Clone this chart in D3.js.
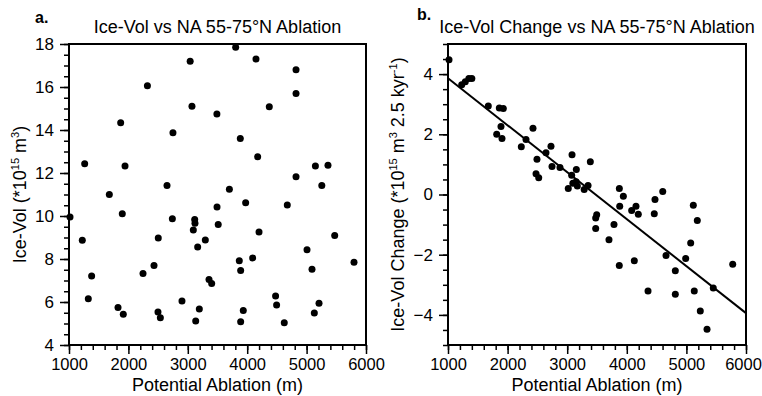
<!DOCTYPE html>
<html>
<head>
<meta charset="utf-8">
<script src="https://cdn.jsdelivr.net/npm/d3@7"></script>
<style>
body { margin: 0; background: #fff; }
svg { font-family: "Liberation Sans", Arial, Helvetica, sans-serif; }
</style>
</head>
<body>
<div class="chart"></div>
<script>
const WIDTH = 762;
const HEIGHT = 396;

// panel a: ice volume vs potential ablation
const ablationA = [3040, 2320, 3070, 3490, 1870, 2750, 1264, 1943, 2650, 3700,
    3806, 4148, 4822, 4822, 4372, 3884, 4176, 5148, 5360, 4822, 5256,
    1679, 1897, 1017, 2740, 3116, 3121, 3093, 3492, 3512, 2503, 1224, 3295, 3166,
    2431, 2246, 1381, 3357, 3402, 1325, 2902, 1825, 3194, 1914, 2498, 2538, 3133,
    3974, 4675, 4199, 5473, 5007, 3867, 4092, 3890, 5091, 5798, 4478, 4495, 5209,
    5130, 3934, 3890, 4624];
const iceVolA = [17.2, 16.06, 15.1, 14.75, 14.34, 13.87, 12.43, 12.33, 11.42, 11.25,
    17.85, 17.3, 16.8, 15.7, 15.08, 13.6, 12.76, 12.33, 12.36, 11.83, 11.42,
    11.0, 10.1, 9.95, 9.87, 9.84, 9.66, 9.35, 10.42, 9.6, 8.98, 8.87, 8.88, 8.56,
    7.7, 7.32, 7.21, 7.05, 6.86, 6.15, 6.05, 5.75, 5.67, 5.43, 5.53, 5.27, 5.12,
    10.62, 10.51, 9.26, 9.09, 8.43, 7.92, 8.05, 7.47, 7.52, 7.85, 6.28, 5.86, 5.94,
    5.49, 5.6, 5.08, 5.04];

// panel b: ice volume change vs potential ablation
const ablationB = [1017, 1230, 1290, 1350, 1400, 1676, 1861, 1928, 1889, 1817, 1906,
    2426, 2309, 2230, 2728, 2644, 2493, 2745, 2879, 2477, 2522, 3081, 3388, 3153, 3075,
    3018, 3095, 3150, 3170, 3285, 3350,
    3875, 3942, 4603, 4473, 3881, 4154, 4082, 4193, 4461, 5116, 5183, 3495, 3478, 3478,
    3785, 3701, 5072, 4658, 4988, 4126, 3874, 5777, 4814, 5451, 5132, 4356, 4814, 5233, 5346];
const iceChangeB = [4.48, 3.65, 3.75, 3.85, 3.85, 2.94, 2.87, 2.86, 2.26, 2.0, 1.86,
    2.2, 1.83, 1.59, 1.6, 1.39, 1.17, 0.93, 0.9, 0.69, 0.56, 1.32, 1.09, 0.83, 0.64,
    0.2, 0.37, 0.42, 0.28, 0.17, 0.3,
    0.2, -0.06, 0.1, -0.17, -0.39, -0.39, -0.53, -0.66, -0.64, -0.36, -0.86, -0.67, -0.78, -1.13,
    -1.0, -1.5, -1.61, -2.03, -2.13, -2.2, -2.36, -2.32, -2.53, -3.11, -3.21, -3.21, -3.31, -3.87, -4.48];

// regression line end points
const fitX = [1000, 6000];
const fitY = [3.86, -3.94];

const xTicks = [1000, 2000, 3000, 4000, 5000, 6000];
const yTicksA = [4, 6, 8, 10, 12, 14, 16, 18];
const yTicksB = [-4, -2, 0, 2, 4];

const TOP = 44, BOTTOM = 345;

var svg = d3.select('.chart').append('svg')
    .attr('width', WIDTH)
    .attr('height', HEIGHT);

function drawPanel(opt) {
    var x = d3.scaleLinear().domain([1000, 6000]).range([opt.left, opt.right]);
    var y = d3.scaleLinear().domain(opt.yDomain).range([BOTTOM, TOP]);
    var g = svg.append('g');

    var xMinor = d3.range(1000, 6001, 200);
    var yMinor = d3.range(opt.yDomain[0], opt.yDomain[1] + 0.001, 0.5);

    g.append('g').attr('transform', 'translate(0,' + BOTTOM + ')')
        .call(d3.axisBottom(x).tickValues(xMinor).tickSize(5).tickSizeOuter(0).tickFormat(''));
    var xAxisG = g.append('g').attr('transform', 'translate(0,' + BOTTOM + ')')
        .call(d3.axisBottom(x).tickValues(xTicks).tickSize(9).tickSizeOuter(0)
            .tickPadding(4).tickFormat(d3.format('d')));
    xAxisG.selectAll('text').style('font-size', '16.5px').attr('fill', '#000');
    // keep the last label inside the window
    xAxisG.selectAll('text').filter(d => x(d) + 19 > WIDTH).attr('dx', WIDTH - 19 - x(6000));

    g.append('g').attr('transform', 'translate(' + opt.left + ',0)')
        .call(d3.axisLeft(y).tickValues(yMinor).tickSize(5).tickSizeOuter(0).tickFormat(''));
    g.append('g').attr('transform', 'translate(' + opt.left + ',0)')
        .call(d3.axisLeft(y).tickValues(opt.yTicks).tickSize(9).tickSizeOuter(0)
            .tickPadding(6).tickFormat(d3.format('d')))
        .selectAll('text').style('font-size', '17px').attr('fill', '#000');

    g.selectAll('.domain').remove();
    g.selectAll('.tick line').attr('stroke', '#000').attr('stroke-width', 1.5);

    g.append('rect')
        .attr('x', opt.left).attr('y', TOP)
        .attr('width', opt.right - opt.left).attr('height', BOTTOM - TOP)
        .attr('fill', 'none').attr('stroke', '#000').attr('stroke-width', 2);

    if (opt.fit) {
        g.append('line')
            .attr('x1', x(fitX[0])).attr('y1', y(fitY[0]))
            .attr('x2', x(fitX[1])).attr('y2', y(fitY[1]))
            .attr('stroke', '#000').attr('stroke-width', 2);
    }

    g.selectAll('circle.dot').data(opt.xs)
        .enter().append('circle')
        .attr('cx', d => x(d))
        .attr('cy', (d, i) => y(opt.ys[i]))
        .attr('r', 3.5)
        .attr('fill', '#000');

    var cx = (opt.left + opt.right) / 2;
    g.append('text').attr('x', cx).attr('y', 33)
        .attr('text-anchor', 'middle').style('font-size', '18px').text(opt.title);
    g.append('text').attr('x', opt.letterX).attr('y', opt.letterY)
        .style('font-size', '16px').style('font-weight', 'bold').text(opt.letter);
    g.append('text').attr('x', cx).attr('y', 391)
        .attr('text-anchor', 'middle').style('font-size', '18px').text('Potential Ablation (m)');

    var yl = g.append('text')
        .attr('transform', 'translate(' + opt.yLabelX + ',' + ((TOP + BOTTOM) / 2) + ') rotate(-90)')
        .attr('text-anchor', 'middle').style('font-size', '18px');
    opt.yLabel.forEach(function (p) {
        var t = yl.append('tspan').text(p.t);
        if (p.sup) t.attr('dy', -7).style('font-size', '11px');
        if (p.after) t.attr('dy', 7);
    });
}

drawPanel({
    left: 69, right: 366, yDomain: [4, 18], yTicks: yTicksA,
    xs: ablationA, ys: iceVolA, fit: false,
    title: 'Ice-Vol vs NA 55-75°N Ablation', letter: 'a.', letterX: 35, letterY: 23,
    yLabelX: 26,
    yLabel: [{t: 'Ice-Vol (*10'}, {t: '15', sup: true}, {t: ' m', after: true},
        {t: '3', sup: true}, {t: ')', after: true}]
});

drawPanel({
    left: 448, right: 746, yDomain: [-5, 5], yTicks: yTicksB,
    xs: ablationB, ys: iceChangeB, fit: true,
    title: 'Ice-Vol Change vs NA 55-75°N Ablation', letter: 'b.', letterX: 417, letterY: 20,
    yLabelX: 404,
    yLabel: [{t: 'Ice-Vol Change (*10'}, {t: '15', sup: true}, {t: ' m', after: true},
        {t: '3', sup: true}, {t: ' 2.5 kyr', after: true}, {t: '-1', sup: true}, {t: ')', after: true}]
});
</script>
</body>
</html>
